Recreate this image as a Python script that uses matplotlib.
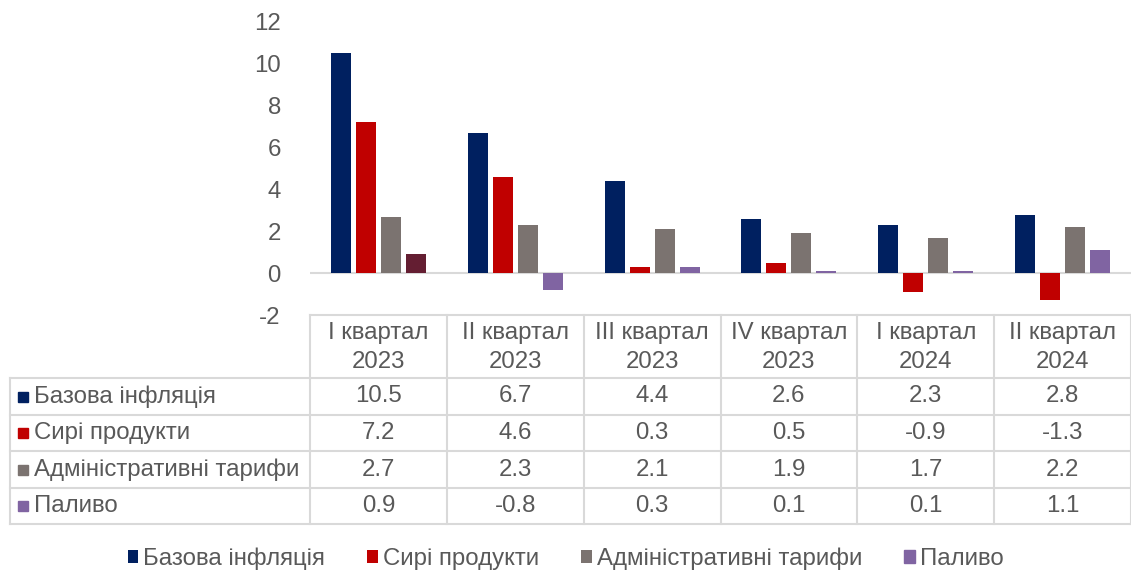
import matplotlib.pyplot as plt
import numpy as np

plt.rcParams['font.family'] = ['Liberation Sans', 'DejaVu Sans']
plt.rcParams['axes.unicode_minus'] = False

categories = ["I квартал\n2023", "II квартал\n2023", "III квартал\n2023",
              "IV квартал\n2023", "I квартал\n2024", "II квартал\n2024"]
series_names = ["Базова інфляція", "Сирі продукти", "Адміністративні тарифи", "Паливо"]
base_infl = [10.5, 6.7, 4.4, 2.6, 2.3, 2.8]
raw_food = [7.2, 4.6, 0.3, 0.5, -0.9, -1.3]
admin_tariffs = [2.7, 2.3, 2.1, 1.9, 1.7, 2.2]
fuel = [0.9, -0.8, 0.3, 0.1, 0.1, 1.1]
colors = ["#002060", "#C00000", "#7B7370", "#8064A2"]
first_fuel_color = "#641E32"

values = [base_infl, raw_food, admin_tariffs, fuel]
text_c = "#595959"
grid_c = "#D9D9D9"
fs = 17.3

W, H = 1131, 571
fig = plt.figure(figsize=(W / 100, H / 100), dpi=100)

# main bar axes (pixel layout of the reference)
left, right, top, bottom = 310, 1131, 22, 315
ax = fig.add_axes([left / W, 1 - bottom / H, (right - left) / W, (bottom - top) / H])
x = np.arange(len(categories))
bw = 0.146
step = 0.183
for i, (name, vals) in enumerate(zip(series_names, values)):
    cols = [colors[i]] * len(vals)
    if i == 3:
        cols[0] = first_fuel_color
    ax.bar(x + (i - 1.5) * step, vals, width=bw, color=cols, label=name, zorder=3)
ax.axhline(0, color=grid_c, lw=1.5, zorder=2)
ax.set_xlim(-0.5, len(categories) - 0.5)
ax.set_ylim(-2, 12)
ax.set_yticks(range(-2, 13, 2))
ax.set_xticks([])
for s in ax.spines.values():
    s.set_visible(False)
ax.tick_params(axis='y', length=0, labelsize=fs, labelcolor=text_c, pad=21)

# data table drawn in pixel coordinates
tax = fig.add_axes([0, 0, 1, 1])
tax.set_xlim(0, W)
tax.set_ylim(H, 0)
tax.axis('off')
colw = (right - left) / len(categories)
row_y = [378, 415, 451, 488, 524]
lw = 1.5
# header
tax.plot([left, right], [bottom, bottom], color=grid_c, lw=lw)
for j in range(len(categories) + 1):
    xx = left + j * colw
    tax.plot([xx, xx], [bottom, row_y[-1]], color=grid_c, lw=lw)
for j, cat in enumerate(categories):
    tax.text(left + (j + 0.5) * colw, (bottom + row_y[0]) / 2 + 1, cat, ha='center', va='center',
             fontsize=fs, color=text_c, linespacing=1.38)
# rows
for yy in row_y:
    tax.plot([10, right], [yy, yy], color=grid_c, lw=lw)
tax.plot([10, 10], [row_y[0], row_y[-1]], color=grid_c, lw=lw)
for i, (name, vals) in enumerate(zip(series_names, values)):
    yc = (row_y[i] + row_y[i + 1]) / 2
    tax.add_patch(plt.Rectangle((18, yc - 5), 10, 10, color=colors[i]))
    tax.text(34, yc, name, ha='left', va='center', fontsize=fs, color=text_c)
    for j, v in enumerate(vals):
        tax.text(left + (j + 0.5) * colw, yc, f"{v:.1f}", ha='center', va='center',
                 fontsize=fs, color=text_c)

# legend at the bottom
handles, labels = ax.get_legend_handles_labels()
leg = fig.legend(handles, labels, loc='center', bbox_to_anchor=(0.5, 1 - 559 / H), ncol=4,
                 frameon=False, fontsize=fs, handlelength=0.45, handleheight=0.45,
                 handletextpad=0.2, columnspacing=1.75, labelcolor=text_c)
leg.legend_handles[3].set_color(colors[3])

fig.savefig("out.png", dpi=100)
